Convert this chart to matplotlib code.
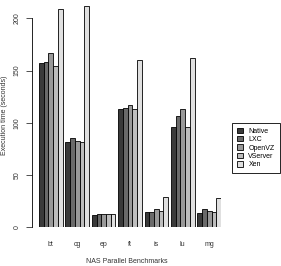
import matplotlib
matplotlib.use('Agg')
import matplotlib.pyplot as plt
import numpy as np

# benchmark results, execution time in seconds
benchmarks = ['bt', 'cg', 'ep', 'ft', 'is', 'lu', 'mg']
systems = ['Native', 'LXC', 'OpenVZ', 'VServer', 'Xen']
native = [157, 82, 12, 112.8, 15, 95.6, 14]
lxc = [158.5, 85.7, 13, 114, 15, 106.5, 17.5]
openvz = [166.5, 83, 13, 117.5, 17.5, 113, 15.5]
vserver = [154, 82, 12.5, 113, 15.5, 95.6, 14.5]
xen = [208.6, 211.7, 12.5, 160, 28.7, 161.7, 28.5]
series = [native, lxc, openvz, vserver, xen]
colors = ['#3a3a3a', '#6a6a6a', '#999999', '#bdbdbd', '#e0e0e0']

plt.rcParams['font.family'] = ['Liberation Sans', 'DejaVu Sans']

W, H = 281, 266
fig = plt.figure(figsize=(W / 100, H / 100), dpi=100)
ax = fig.add_axes([32 / W, (H - 227.3) / H, (221 - 32) / W, 224 / H])

period = 5.6
for i, vals in enumerate(series):
    x = np.arange(len(benchmarks)) * period + i + 0.5
    ax.bar(x, vals, width=1, color=colors[i], edgecolor='black', linewidth=0.6,
           label=systems[i])

ax.set_xlim(-1.48, 6 * period + 5)
ax.set_ylim(0, 214.4)
ax.spines['top'].set_visible(False)
ax.spines['right'].set_visible(False)
ax.spines['bottom'].set_visible(False)
ax.spines['left'].set_bounds(0, 200)
ax.spines['left'].set_linewidth(0.6)
ax.set_yticks([0, 50, 100, 150, 200])
ax.set_yticklabels(['0', '50', '100', '150', '200'], rotation=90, va='center')
ax.tick_params(axis='y', length=4, width=0.6, labelsize=5, pad=4, colors='#333333')
ax.set_xticks(np.arange(len(benchmarks)) * period + 2.5)
ax.set_xticklabels(benchmarks)
ax.tick_params(axis='x', length=0, labelsize=5, pad=10, colors='#333333')
ax.set_ylabel('Execution time (seconds)', fontsize=5, labelpad=4, color='#333333')
ax.set_xlabel('NAS Parallel Benchmarks', fontsize=5, labelpad=7, color='#333333')

leg = ax.legend(loc='center left', bbox_to_anchor=(229 / W, (H - 148) / H),
                bbox_transform=fig.transFigure, fontsize=5, frameon=True,
                fancybox=False, edgecolor='black', framealpha=1,
                handlelength=0.8, handleheight=0.8, handletextpad=0.8,
                labelspacing=0.2, borderpad=0.7)
leg.get_frame().set_linewidth(0.6)

fig.savefig('out.png', dpi=100)
